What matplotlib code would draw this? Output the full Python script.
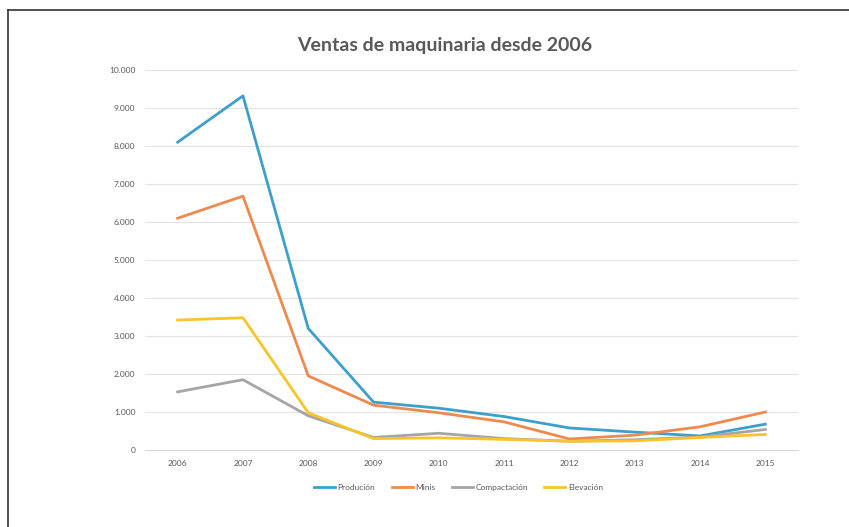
import matplotlib
matplotlib.use("Agg")
import matplotlib.pyplot as plt
from matplotlib.lines import Line2D
from matplotlib.ticker import FuncFormatter

# =========================
# DATOS
# =========================
anios = ["2006", "2007", "2008", "2009", "2010", "2011", "2012", "2013", "2014", "2015"]

produccion   = [8100, 9320, 3200, 1260, 1100, 880, 580, 470, 370, 680]
minis        = [6100, 6680, 1950, 1180, 980, 740, 290, 390, 610, 1000]
compactacion = [1530, 1850, 900, 330, 440, 300, 230, 270, 340, 540]
elevacion    = [3420, 3480, 980, 300, 320, 280, 230, 240, 330, 410]

series  = [produccion, minis, compactacion, elevacion]
nombres = ["Produción", "Minis", "Compactación", "Elevación"]
colores = ["#3E9FCB", "#EE8A50", "#A5A5A5", "#F7C52A"]

TEXTO = "#595959"
plt.rcParams["font.family"] = ["Lato", "DejaVu Sans"]

# =========================
# FIGURA
# =========================
fig = plt.figure(figsize=(8.49, 5.27), dpi=100)
ax = fig.add_axes([145 / 849, 77 / 527, 653 / 849, 380 / 527])

x = list(range(len(anios)))
for valores, nombre, color in zip(series, nombres, colores):
    ax.plot(x, valores, color=color, lw=2, label=nombre, solid_joinstyle="round")

ax.set_xlim(-0.5, len(anios) - 0.5)
ax.set_ylim(0, 10000)
ax.set_yticks(range(0, 10001, 1000))
ax.yaxis.set_major_formatter(FuncFormatter(lambda v, p: f"{int(v):,}".replace(",", ".")))
ax.set_xticks(x)
ax.set_xticklabels(anios)

ax.grid(axis="y", color="#E3E3E3", lw=0.8)
ax.set_axisbelow(True)
for s in ["top", "right", "left"]:
    ax.spines[s].set_visible(False)
ax.spines["bottom"].set_color("#D9D9D9")
ax.tick_params(length=0, labelsize=6, colors=TEXTO, pad=7)

fig.text(0.524, 0.913, "Ventas de maquinaria desde 2006", ha="center", va="center",
         fontsize=14, fontweight="bold", color=TEXTO)

ax.legend(loc="upper center", bbox_to_anchor=(0.48, -0.07), ncol=4, frameon=False,
          fontsize=6, labelcolor=TEXTO, handlelength=2.5, columnspacing=2, handletextpad=0.3)

# marco (solo arriba e izquierda visibles)
fig.add_artist(Line2D([8 / 849, 1], [1 - 10 / 527, 1 - 10 / 527], color="#333333", lw=1.2))
fig.add_artist(Line2D([8 / 849, 8 / 849], [0, 1 - 10 / 527], color="#333333", lw=1.2))

fig.savefig("out.png", dpi=100, facecolor="white")
